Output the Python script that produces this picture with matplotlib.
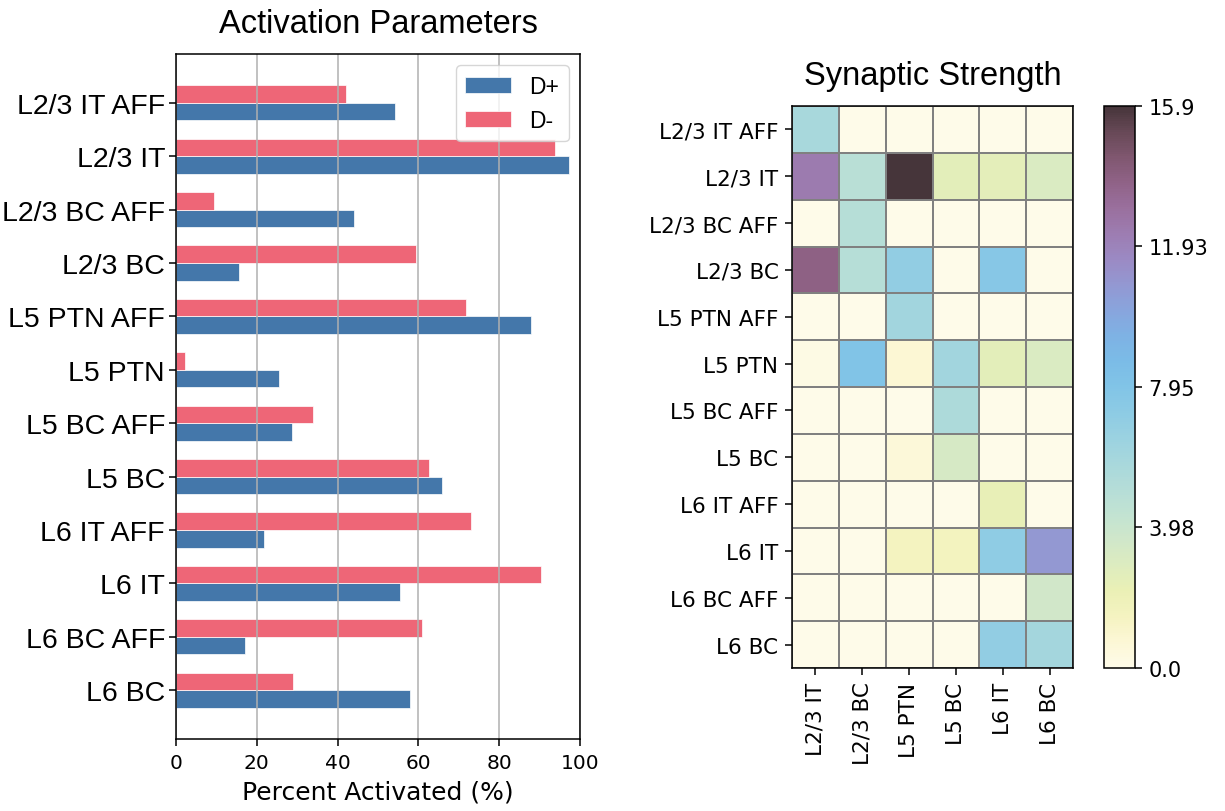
import matplotlib
matplotlib.use('Agg')
import matplotlib.pyplot as plt
from matplotlib.colors import LinearSegmentedColormap
import numpy as np

# data
cells = ['L2/3 IT AFF', 'L2/3 IT', 'L2/3 BC AFF', 'L2/3 BC', 'L5 PTN AFF', 'L5 PTN',
         'L5 BC AFF', 'L5 BC', 'L6 IT AFF', 'L6 IT', 'L6 BC AFF', 'L6 BC']
d_plus = [54.1, 97.4, 44.0, 15.7, 87.8, 25.4, 28.8, 65.8, 21.9, 55.5, 17.2, 57.9]
d_minus = [42.1, 93.8, 9.3, 59.5, 71.8, 2.2, 34.0, 62.5, 73.1, 90.4, 61.0, 29.0]

targets = ['L2/3 IT', 'L2/3 BC', 'L5 PTN', 'L5 BC', 'L6 IT', 'L6 BC']
strength = [
    [5.8, 0.0, 0.0, 0.0, 0.0, 0.0],
    [12.4, 4.9, 15.9, 2.6, 2.5, 3.1],
    [0.0, 5.0, 0.0, 0.0, 0.0, 0.0],
    [13.8, 5.0, 7.0, 0.0, 7.6, 0.0],
    [0.0, 0.0, 6.1, 0.0, 0.0, 0.0],
    [0.2, 7.95, 0.8, 6.1, 2.6, 3.1],
    [0.0, 0.0, 0.0, 5.5, 0.0, 0.0],
    [0.0, 0.0, 0.6, 3.3, 0.0, 0.0],
    [0.0, 0.0, 0.0, 0.0, 2.3, 0.0],
    [0.0, 0.0, 1.5, 1.6, 7.1, 10.84],
    [0.0, 0.0, 0.0, 0.0, 0.0, 3.6],
    [0.0, 0.0, 0.0, 0.0, 7.0, 6.0],
]
cbar_ticks = [0.0, 3.98, 7.95, 11.93, 15.9]

# Paul Tol iridescent
iridescent = ['#FEFBE9', '#FCF7D5', '#F5F3C1', '#EAF0B5', '#DDECBF', '#D0E7CA',
              '#C2E3D2', '#B5DDD8', '#A8D8DC', '#9BD2E1', '#8DCBE4', '#81C4E7',
              '#7BBCE7', '#7EB2E4', '#88A5DD', '#9398D2', '#9B8AC4', '#9D7DB2',
              '#9A709E', '#906388', '#805770', '#684957', '#46353A']
cmap = LinearSegmentedColormap.from_list('iridescent', iridescent)

# the original looks rendered at ~1.4x the default scale
plt.rcParams['axes.linewidth'] = 1.1
for a in ('xtick', 'ytick'):
    plt.rcParams[a + '.major.size'] = 4.9
    plt.rcParams[a + '.major.width'] = 1.1
    plt.rcParams[a + '.major.pad'] = 4.9

fig = plt.figure(figsize=(12.25, 8.12), dpi=100)

# ---- left: bar chart ----
ax1 = fig.add_axes([176/1225, 1 - 740/812, 404/1225, 685/812])
y = np.arange(len(cells))
h = 0.33
ax1.barh(y + h/2, d_plus, h, color='#4477AA', edgecolor='white', linewidth=0.5, label='D+')
ax1.barh(y - h/2, d_minus, h, color='#EE6677', edgecolor='white', linewidth=0.5, label='D-')
ax1.set_yticks(y)
ax1.set_yticklabels(cells, fontsize=20.5, family='Liberation Sans')
ax1.tick_params(axis='y', pad=3)
ax1.invert_yaxis()
ax1.set_xlim(0, 100)
ax1.tick_params(axis='x', labelsize=14.5)
ax1.grid(True, axis='x', color='#b0b0b0', linewidth=1.1)
ax1.set_xlabel('Percent Activated (%)', fontsize=18, labelpad=6)
ax1.set_title('Activation Parameters', fontsize=23.5, family='Liberation Sans', pad=16)
ax1.legend(loc='upper right', prop={'family': 'Liberation Sans', 'size': 16.5})

# ---- right: heatmap ----
ax2 = fig.add_axes([792/1225, 1 - 669/812, 281/1225, 562/812])
mesh = ax2.pcolormesh(np.array(strength), cmap=cmap, vmin=0, vmax=15.9,
                      edgecolors='gray', linewidth=1.1)
ax2.set_xlim(0, len(targets))
ax2.set_ylim(len(cells), 0)
ax2.set_xticks(np.arange(len(targets)) + 0.5)
ax2.set_xticklabels(targets, rotation=90, fontsize=15.5)
ax2.set_yticks(np.arange(len(cells)) + 0.5)
ax2.set_yticklabels(cells, fontsize=15.5)
ax2.set_title('Synaptic Strength', fontsize=23.5, family='Liberation Sans', pad=16)

cax = fig.add_axes([1104/1225, 1 - 669/812, 31/1225, 562/812])
cb = fig.colorbar(mesh, cax=cax)
cb.set_ticks(cbar_ticks)
cb.set_ticklabels([str(t) for t in cbar_ticks])
cb.ax.tick_params(labelsize=15)
cb.outline.set_linewidth(1.1)

plt.savefig('out.png', dpi=100, facecolor='white')
